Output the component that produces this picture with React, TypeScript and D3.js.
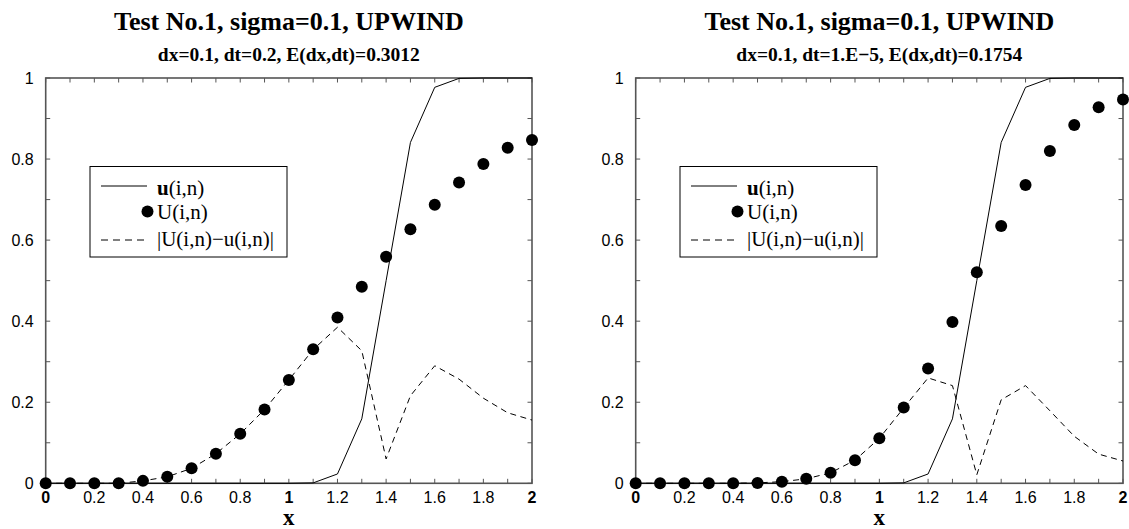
import React from "react";
import * as d3 from "d3";

// ---- data ----
const xValues = [0, 0.1, 0.2, 0.3, 0.4, 0.5, 0.6, 0.7, 0.8, 0.9, 1.0, 1.1, 1.2, 1.3, 1.4, 1.5, 1.6, 1.7, 1.8, 1.9, 2.0];

const exactLeft = [0, 0, 0, 0, 0, 0, 0, 0, 0, 0, 0, 0.001, 0.023, 0.159, 0.5, 0.841, 0.977, 0.999, 1, 1, 1];
const numericLeft = [0, 0, 0, 0, 0.006, 0.016, 0.037, 0.073, 0.122, 0.182, 0.255, 0.331, 0.409, 0.485, 0.559, 0.627, 0.687, 0.742, 0.788, 0.828, 0.847];
const errorLeft = [0, 0, 0, 0, 0.006, 0.016, 0.037, 0.073, 0.122, 0.182, 0.255, 0.330, 0.385, 0.327, 0.060, 0.216, 0.290, 0.257, 0.210, 0.174, 0.156];

const exactRight = [0, 0, 0, 0, 0, 0, 0, 0, 0, 0, 0, 0.001, 0.023, 0.159, 0.5, 0.841, 0.977, 0.999, 1, 1, 1];
const numericRight = [0, 0, 0, 0, 0, 0.001, 0.004, 0.011, 0.026, 0.057, 0.111, 0.187, 0.283, 0.398, 0.521, 0.635, 0.736, 0.820, 0.884, 0.928, 0.947];
const errorRight = [0, 0, 0, 0, 0, 0.001, 0.004, 0.011, 0.026, 0.057, 0.111, 0.186, 0.260, 0.241, 0.021, 0.206, 0.241, 0.179, 0.116, 0.072, 0.055];

const xTickLabels = ["0", "0.2", "0.4", "0.6", "0.8", "1", "1.2", "1.4", "1.6", "1.8", "2"];
const yTickLabels = ["0", "0.2", "0.4", "0.6", "0.8", "1"];
const boldXTicks = ["0", "1", "2"];

const titleText = "Test No.1, sigma=0.1, UPWIND";
const subtitleLeft = "dx=0.1, dt=0.2, E(dx,dt)=0.3012";
const subtitleRight = "dx=0.1, dt=1.E\u22125, E(dx,dt)=0.1754";
const legendLabels = ["u(i,n)", "U(i,n)", "|U(i,n)\u2212u(i,n)|"];

const SERIF = "'Liberation Serif', 'Times New Roman', serif";
const SANS = "'Liberation Sans', Arial, Helvetica, sans-serif";

type PanelProps = {
  left: number;
  right: number;
  subtitle: string;
  exact: number[];
  numeric: number[];
  error: number[];
};

const TOP = 78;
const BOTTOM = 483.3;

function Panel({ left, right, subtitle, exact, numeric, error }: PanelProps) {
  const x = d3.scaleLinear().domain([0, 2]).range([left, right]);
  const y = d3.scaleLinear().domain([0, 1]).range([BOTTOM, TOP]);
  const cx = (left + right) / 2;

  const lineGen = (vals: number[]) =>
    d3
      .line<number>()
      .x((_, i) => x(xValues[i]))
      .y((d) => y(d))(vals) || "";

  const minorX = d3.range(0, 21).map((i) => i / 10);
  const minorY = d3.range(0, 11).map((i) => i / 10);
  const tickLen = 4.5;
  const axisColor = "#555";

  const lx = left + 44.3;
  const ly = 166.5;

  return (
    <g>
      <text x={cx} y={30} textAnchor="middle" fontFamily={SERIF} fontWeight="bold" fontSize={26}>
        {titleText}
      </text>
      <text x={cx} y={61} textAnchor="middle" fontFamily={SERIF} fontWeight="bold" fontSize={19.5}>
        {subtitle}
      </text>

      {/* ticks */}
      {minorX.map((t, i) => (
        <g key={"xt" + i}>
          <line x1={x(t)} x2={x(t)} y1={BOTTOM} y2={BOTTOM - tickLen} stroke={axisColor} strokeWidth={1} />
          <line x1={x(t)} x2={x(t)} y1={TOP} y2={TOP + tickLen} stroke={axisColor} strokeWidth={1} />
        </g>
      ))}
      {minorY.map((t, i) => (
        <g key={"yt" + i}>
          <line x1={left} x2={left + tickLen} y1={y(t)} y2={y(t)} stroke={axisColor} strokeWidth={1} />
          <line x1={right} x2={right - tickLen} y1={y(t)} y2={y(t)} stroke={axisColor} strokeWidth={1} />
        </g>
      ))}
      <rect x={left} y={TOP} width={right - left} height={BOTTOM - TOP} fill="none" stroke={axisColor} strokeWidth={1.6} />

      {/* tick labels */}
      {xTickLabels.map((lab) => (
        <text
          key={"xl" + lab}
          x={x(parseFloat(lab))}
          y={503}
          textAnchor="middle"
          fontFamily={SANS}
          fontSize={16}
          fontWeight={boldXTicks.includes(lab) ? "bold" : "normal"}
        >
          {lab}
        </text>
      ))}
      {yTickLabels.map((lab) => (
        <text
          key={"yl" + lab}
          x={left - 12}
          y={y(parseFloat(lab)) + 5.5}
          textAnchor="end"
          fontFamily={SANS}
          fontSize={16}
        >
          {lab}
        </text>
      ))}
      <text x={cx} y={524.5} textAnchor="middle" fontFamily={SERIF} fontWeight="bold" fontSize={23}>
        x
      </text>

      {/* series */}
      <path d={lineGen(exact)} fill="none" stroke="#000" strokeWidth={1} />
      <path d={lineGen(error)} fill="none" stroke="#000" strokeWidth={1} strokeDasharray="6,4.5" />
      {numeric.map((v, i) => (
        <circle key={"c" + i} cx={x(xValues[i])} cy={y(v)} r={6} fill="#000" />
      ))}

      {/* legend */}
      <rect x={lx} y={ly} width={197} height={90.5} fill="#fff" stroke="#000" strokeWidth={1} />
      <line x1={lx + 11} x2={lx + 57} y1={ly + 19.5} y2={ly + 19.5} stroke="#000" strokeWidth={1} />
      <text x={lx + 67} y={ly + 28} fontFamily={SERIF} fontSize={21}>
        <tspan fontWeight="bold">u</tspan>
        {legendLabels[0].slice(1)}
      </text>
      <circle cx={lx + 57.5} cy={ly + 45} r={6} fill="#000" />
      <text x={lx + 67} y={ly + 52.5} fontFamily={SERIF} fontSize={21}>
        {legendLabels[1]}
      </text>
      <line x1={lx + 11} x2={lx + 57} y1={ly + 73.5} y2={ly + 73.5} stroke="#000" strokeWidth={1} strokeDasharray="7,5" />
      <text x={lx + 67} y={ly + 79} fontFamily={SERIF} fontSize={21}>
        {legendLabels[2]}
      </text>
    </g>
  );
}

export default function App() {
  return (
    <svg
      width={1129}
      height={529}
      style={{ position: "absolute", left: 0, top: 0, background: "#fff" }}
    >
      <rect width={1129} height={529} fill="#fff" />
      <Panel left={45.7} right={532} subtitle={subtitleLeft} exact={exactLeft} numeric={numericLeft} error={errorLeft} />
      <Panel left={635.7} right={1123} subtitle={subtitleRight} exact={exactRight} numeric={numericRight} error={errorRight} />
    </svg>
  );
}
